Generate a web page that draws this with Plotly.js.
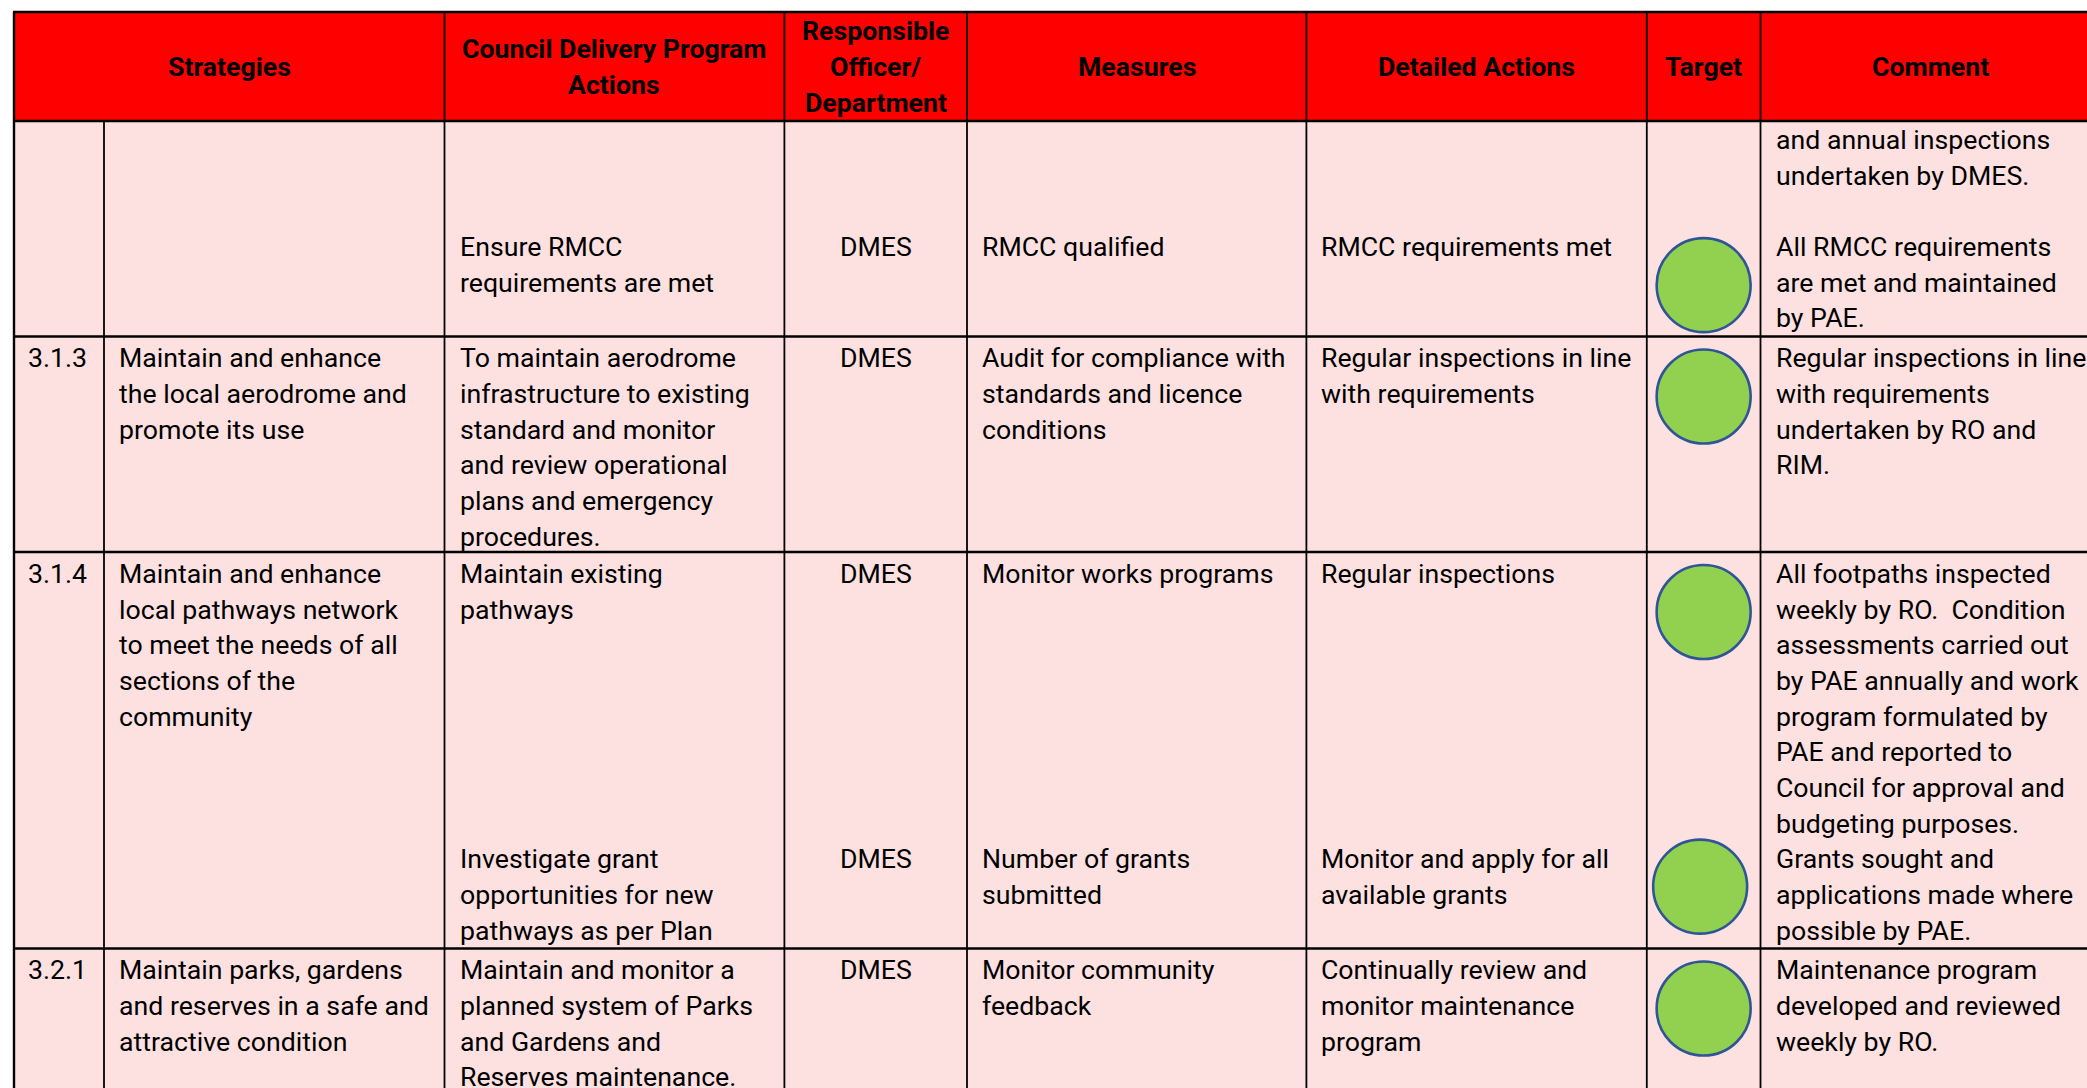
<!DOCTYPE html>
<html>
<head>
<meta charset="utf-8">
<script src="https://cdn.plot.ly/plotly-3.0.1.min.js"></script>
<style>
html,body{margin:0;padding:0;background:#ffffff;overflow:hidden;}
#chart{width:2087px;height:1088px;}
</style>
</head>
<body>
<div id="chart"></div>
<script>
// ---------------- DATA ----------------
const headers = [
  ["Strategies"],
  ["Council Delivery Program", "Actions"],
  ["Responsible", "Officer/", "Department"],
  ["Measures"],
  ["Detailed Actions"],
  ["Target"],
  ["Comment"]
];

const ids = ["", "3.1.3", "3.1.4", "3.2.1"];

const strategies = [
  [],
  ["Maintain and enhance", "the local aerodrome and", "promote its use"],
  ["Maintain and enhance", "local pathways network", "to meet the needs of all", "sections of the", "community"],
  ["Maintain parks, gardens", "and reserves in a safe and", "attractive condition"]
];

const actions = [
  ["", "", "", "Ensure RMCC", "requirements are met"],
  ["To maintain aerodrome", "infrastructure to existing", "standard and monitor", "and review operational", "plans and emergency", "procedures."],
  ["Maintain existing", "pathways", "", "", "", "", "", "", "Investigate grant", "opportunities for new", "pathways as per Plan"],
  ["Maintain and monitor a", "planned system of Parks", "and Gardens and", "Reserves maintenance."]
];

const officers = [
  ["", "", "", "DMES"],
  ["DMES"],
  ["DMES", "", "", "", "", "", "", "", "DMES"],
  ["DMES"]
];

const measures = [
  ["", "", "", "RMCC qualified"],
  ["Audit for compliance with", "standards and licence", "conditions"],
  ["Monitor works programs", "", "", "", "", "", "", "", "Number of grants", "submitted"],
  ["Monitor community", "feedback"]
];

const detailedActions = [
  ["", "", "", "RMCC requirements met"],
  ["Regular inspections in line", "with requirements"],
  ["Regular inspections", "", "", "", "", "", "", "", "Monitor and apply for all", "available grants"],
  ["Continually review and", "monitor maintenance", "program"]
];

// line index at which each target status light sits
const targetLines = [[3], [0], [0, 8], [0]];
const targetStatus = [["green"], ["green"], ["green", "green"], ["green"]];

const comments = [
  ["and annual inspections", "undertaken by DMES.", "", "All RMCC requirements", "are met and maintained", "by PAE."],
  ["Regular inspections in line", "with requirements", "undertaken by RO and", "RIM."],
  ["All footpaths inspected", "weekly by RO.  Condition", "assessments carried out", "by PAE annually and work", "program formulated by", "PAE and reported to", "Council for approval and", "budgeting purposes.", "Grants sought and", "applications made where", "possible by PAE."],
  ["Maintenance program", "developed and reviewed", "weekly by RO."]
];

// ---------------- LAYOUT / STYLE ----------------
const W = 2087, H = 1088;
const colX = [14, 104, 444.5, 784.4, 967, 1306.4, 1646.8, 1760.5, 2100];
const tableTop = 12, headerBottom = 121;
const rowTops = [121, 336.5, 552, 948.5];
const tableBottom = 1300;
const firstBaseline = [27, 30, 30, 30];
const lineStep = 35.7;
const pad = 14;
const FS = 26.7;
const FONT = "Roboto, 'Liberation Sans', Arial, sans-serif";
const baseShift = 0.342 * FS - 1;  // baseline -> vertical middle of text box
const circleDrop = 30;             // circle centre below line baseline
const circleNudgeX = [[0], [0], [0, -3.5], [0]];
const circleNudgeY = [[0], [0], [0, -11], [0]];
const statusColor = { green: "#92D050", amber: "#FFC000", red: "#FF0000" };

const HEADER_RED = "#FF0000";
const BODY_PINK = "#FDE1E0";

function baseline(r, k) { return rowTops[r] + firstBaseline[r] + k * lineStep; }

const annotations = [];
function addText(txt, x, yBase, anchor, bold) {
  if (!txt) return;
  annotations.push({
    x: x, y: yBase - baseShift, xref: "x", yref: "y",
    text: bold ? "<b>" + txt + "</b>" : txt,
    showarrow: false, xanchor: anchor, yanchor: "middle",
    align: anchor === "center" ? "center" : "left",
    borderpad: 0,
    font: { family: FONT, size: FS, color: "#000000" }
  });
}

// header texts
const headerSpans = [[0, 2], [2, 3], [3, 4], [4, 5], [5, 6], [6, 7], [7, 8]];
const headerMid = 75;
headers.forEach((lines, i) => {
  const cx = (colX[headerSpans[i][0]] + colX[headerSpans[i][1]]) / 2;
  lines.forEach((t, j) => {
    addText(t, cx, headerMid + (j - (lines.length - 1) / 2) * lineStep, "center", true);
  });
});

// body texts
const bodyCols = [
  { data: ids.map(s => s ? [s] : []), col: 0, align: "left", padL: 13 },
  { data: strategies, col: 1, align: "left", padL: pad },
  { data: actions, col: 2, align: "left", padL: pad },
  { data: officers, col: 3, align: "center" },
  { data: measures, col: 4, align: "left", padL: pad },
  { data: detailedActions, col: 5, align: "left", padL: pad },
  { data: comments, col: 7, align: "left", padL: pad + 0.5 }
];
bodyCols.forEach(c => {
  c.data.forEach((lines, r) => {
    lines.forEach((t, k) => {
      const x = c.align === "center" ? (colX[c.col] + colX[c.col + 1]) / 2 : colX[c.col] + c.padL;
      addText(t, x, baseline(r, k), c.align, false);
    });
  });
});

// shapes: backgrounds and grid lines
const shapes = [];
shapes.push({ type: "rect", xref: "x", yref: "y", x0: colX[0], x1: colX[8], y0: tableTop, y1: headerBottom, fillcolor: HEADER_RED, line: { width: 0 }, layer: "below" });
shapes.push({ type: "rect", xref: "x", yref: "y", x0: colX[0], x1: colX[8], y0: headerBottom, y1: tableBottom, fillcolor: BODY_PINK, line: { width: 0 }, layer: "below" });
[tableTop].concat(rowTops).forEach(y => {
  shapes.push({ type: "line", xref: "x", yref: "y", x0: colX[0] - 1, x1: colX[8], y0: y, y1: y, line: { color: "#000000", width: 2.6 } });
});
colX.forEach((x, i) => {
  const y0 = (i === 1) ? headerBottom : tableTop;
  shapes.push({ type: "line", xref: "x", yref: "y", x0: x, x1: x, y0: y0, y1: tableBottom, line: { color: "#000000", width: i === 0 ? 2.4 : 1.8 } });
});

// target circles
const cx = [], cy = [], cc = [];
targetLines.forEach((ks, r) => {
  ks.forEach((k, j) => {
    cx.push((colX[6] + colX[7]) / 2 + circleNudgeX[r][j]);
    cy.push(baseline(r, k) + circleDrop + circleNudgeY[r][j]);
    cc.push(statusColor[targetStatus[r][j]]);
  });
});

const traces = [{
  type: "scatter", mode: "markers", x: cx, y: cy,
  marker: { size: 94, color: cc, line: { color: "#2F5597", width: 2.6 } },
  hoverinfo: "skip", showlegend: false, cliponaxis: false
}];

const layout = {
  width: W, height: H,
  margin: { l: 0, r: 0, t: 0, b: 0, pad: 0 },
  paper_bgcolor: "#ffffff", plot_bgcolor: "#ffffff",
  xaxis: { range: [0, W], visible: false, fixedrange: true },
  yaxis: { range: [H, 0], visible: false, fixedrange: true },
  shapes: shapes,
  annotations: annotations,
  showlegend: false
};

Plotly.newPlot("chart", traces, layout, { displayModeBar: false, staticPlot: true });
</script>
</body>
</html>
